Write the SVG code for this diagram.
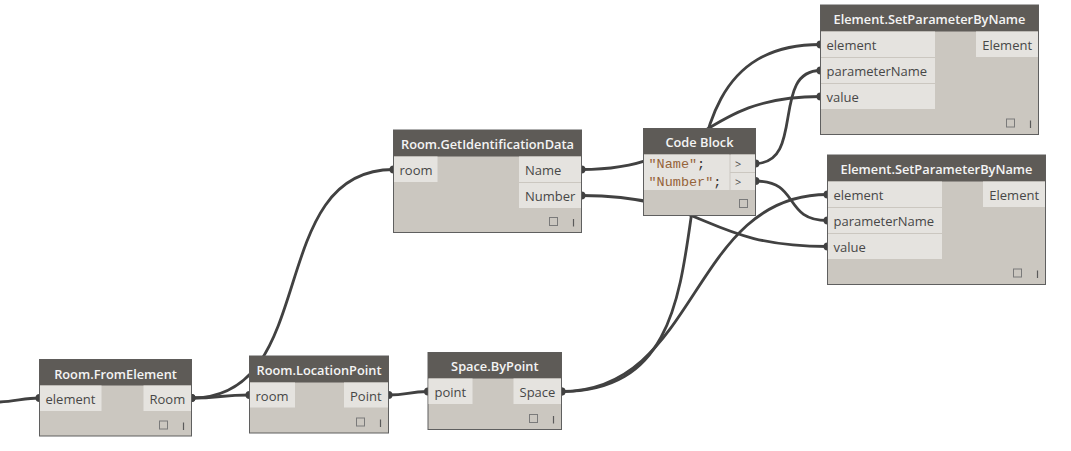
<svg xmlns="http://www.w3.org/2000/svg" width="1071" height="451" viewBox="0 0 1071 451">
<style>
.body{fill:#cbc7c0;stroke:#5f5f5f;stroke-width:1}
.hdr{fill:#5e5b57}
.port{fill:#e5e3df}
.ht{font-family:"Open Sans","Liberation Sans",sans-serif;font-size:12.8px;font-weight:600;fill:#f4f4f4;text-anchor:middle}
.pt{font-family:"Open Sans","Liberation Sans",sans-serif;font-size:13px;fill:#474747}
.code{font-family:"Liberation Mono","DejaVu Sans Mono",monospace;font-size:13.5px;fill:#96643a}
.semi{fill:#333333}
.gt{font-family:"Open Sans","Liberation Sans",sans-serif;font-size:11px;fill:#4a4a4a}
.ico{fill:none;stroke:#7a7a7a;stroke-width:1}
.bar{stroke:#5a5a5a;stroke-width:1.2}
.wire{fill:none;stroke:#414141;stroke-width:2.8}
</style>
<defs>
<marker id="dot" markerUnits="userSpaceOnUse" markerWidth="10" markerHeight="10" refX="5" refY="5" viewBox="0 0 10 10"><circle cx="5" cy="5" r="4" fill="#414141"/></marker>
</defs>
<rect width="1071" height="451" fill="#ffffff"/>
<g id="connectors">
<path class="wire" d="M0,402 C15,401.5 25,398 39.5,398" marker-end="url(#dot)"/>
<path class="wire" d="M191.5,398 C220.5,398 220.5,395 249.5,395" marker-start="url(#dot)" marker-end="url(#dot)"/>
<path class="wire" d="M191.5,398 C321.5,398 263.5,169.5 393.5,169.5" marker-start="url(#dot)" marker-end="url(#dot)"/>
<path class="wire" d="M388.5,395 C408,395 408,391.5 428,391.5" marker-start="url(#dot)" marker-end="url(#dot)"/>
<path class="wire" d="M561.5,391.5 C771.5,391.5 610.5,44.5 820.5,44.5" marker-start="url(#dot)" marker-end="url(#dot)"/>
<path class="wire" d="M561.5,391.5 C699.5,391.5 689.5,194.5 827.5,194.5" marker-start="url(#dot)" marker-end="url(#dot)"/>
<path class="wire" d="M581.5,169.5 C704.5,169.5 697.5,96.5 820.5,96.5" marker-start="url(#dot)" marker-end="url(#dot)"/>
<path class="wire" d="M581.5,195.5 C706.5,195.5 702.5,246.5 827.5,246.5" marker-start="url(#dot)" marker-end="url(#dot)"/>
<path class="wire" d="M755.5,163.5 C805.5,163.5 770.5,70.5 820.5,70.5" marker-start="url(#dot)" marker-end="url(#dot)"/>
<path class="wire" d="M755.5,181 C800.5,181 782.5,220.5 827.5,220.5" marker-start="url(#dot)" marker-end="url(#dot)"/>
</g>
<g id="room-fromelement">
<rect class="body" x="39.5" y="359.5" width="152" height="76.5"/>
<rect class="hdr" x="39.5" y="359.5" width="152" height="26"/>
<rect class="port" x="40" y="385.5" width="61.5" height="25.5"/>
<rect class="port" x="143.5" y="385.5" width="47.5" height="25.5"/>
<text class="ht" x="115.5" y="378.5">Room.FromElement</text>
<text class="pt" x="45.5" y="404">element</text>
<text class="pt" x="149.5" y="404">Room</text>
<rect class="ico" x="159.5" y="421" width="8" height="8"/>
<line class="bar" x1="183.5" y1="422.5" x2="183.5" y2="430"/>
</g>
<g id="room-locationpoint">
<rect class="body" x="249.5" y="356" width="139" height="77"/>
<rect class="hdr" x="249.5" y="356" width="139" height="26.5"/>
<rect class="port" x="250" y="382.5" width="45" height="25"/>
<rect class="port" x="344" y="382.5" width="44" height="25"/>
<text class="ht" x="319" y="375">Room.LocationPoint</text>
<text class="pt" x="255.5" y="400.5">room</text>
<text class="pt" x="350" y="400.5">Point</text>
<rect class="ico" x="356.5" y="418" width="8" height="8"/>
<line class="bar" x1="380.5" y1="419.5" x2="380.5" y2="427"/>
</g>
<g id="room-getidentificationdata">
<rect class="body" x="393.5" y="130" width="188" height="102.5"/>
<rect class="hdr" x="393.5" y="130" width="188" height="26.5"/>
<rect class="port" x="394" y="156.5" width="43.5" height="25.5"/>
<rect class="port" x="519" y="156.5" width="62" height="25.5"/>
<rect class="port" x="519" y="183" width="62" height="25"/>
<text class="ht" x="487.5" y="149">Room.GetIdentificationData</text>
<text class="pt" x="399.5" y="174.5">room</text>
<text class="pt" x="525" y="174.5">Name</text>
<text class="pt" x="525" y="201">Number</text>
<rect class="ico" x="549.5" y="217.5" width="8" height="8"/>
<line class="bar" x1="573.5" y1="219" x2="573.5" y2="226.5"/>
</g>
<g id="code-block">
<rect class="body" x="643.5" y="128.5" width="112" height="87"/>
<rect class="hdr" x="643.5" y="128.5" width="112" height="26"/>
<rect class="port" x="644" y="154.5" width="85.5" height="35.5"/>
<rect class="port" x="730.5" y="154.5" width="24.5" height="17.5"/>
<rect class="port" x="730.5" y="173" width="24.5" height="17"/>
<text class="ht" x="699.5" y="147">Code Block</text>
<text class="code" x="648.5" y="168.3">"Name"<tspan class="semi">;</tspan></text>
<text class="code" x="648.5" y="185.8">"Number"<tspan class="semi">;</tspan></text>
<text class="gt" x="735" y="168">&gt;</text>
<text class="gt" x="735" y="186">&gt;</text>
<rect class="ico" x="739.5" y="199.5" width="8" height="8"/>
</g>
<g id="setparameter-1">
<rect class="body" x="820.5" y="5" width="218" height="129.5"/>
<rect class="hdr" x="820.5" y="5" width="218" height="26.5"/>
<rect class="port" x="821" y="31.5" width="114" height="25.5"/>
<rect class="port" x="821" y="58" width="114" height="25"/>
<rect class="port" x="821" y="84" width="114" height="25"/>
<rect class="port" x="976" y="31.5" width="62" height="25.5"/>
<text class="ht" x="929.5" y="24">Element.SetParameterByName</text>
<text class="pt" x="826.5" y="49.5">element</text>
<text class="pt" x="826.5" y="75.8">parameterName</text>
<text class="pt" x="826.5" y="101.7">value</text>
<text class="pt" x="982.3" y="49.5">Element</text>
<rect class="ico" x="1006.5" y="119" width="8" height="8"/>
<line class="bar" x1="1030.5" y1="120.5" x2="1030.5" y2="128"/>
</g>
<g id="setparameter-2">
<rect class="body" x="827.5" y="155" width="218" height="129.5"/>
<rect class="hdr" x="827.5" y="155" width="218" height="26.5"/>
<rect class="port" x="828" y="181.5" width="114" height="25.5"/>
<rect class="port" x="828" y="208" width="114" height="25"/>
<rect class="port" x="828" y="234" width="114" height="25"/>
<rect class="port" x="983" y="181.5" width="62" height="25.5"/>
<text class="ht" x="936.5" y="174">Element.SetParameterByName</text>
<text class="pt" x="833.5" y="199.5">element</text>
<text class="pt" x="833.5" y="225.8">parameterName</text>
<text class="pt" x="833.5" y="251.7">value</text>
<text class="pt" x="989.3" y="199.5">Element</text>
<rect class="ico" x="1013.5" y="269" width="8" height="8"/>
<line class="bar" x1="1037.5" y1="270.5" x2="1037.5" y2="278"/>
</g>
<g id="space-bypoint">
<rect class="body" x="428" y="352.5" width="133.5" height="77"/>
<rect class="hdr" x="428" y="352.5" width="133.5" height="26"/>
<rect class="port" x="428.5" y="378.5" width="44" height="25.5"/>
<rect class="port" x="513.5" y="378.5" width="47.5" height="25.5"/>
<text class="ht" x="494.8" y="371">Space.ByPoint</text>
<text class="pt" x="434.5" y="396.5">point</text>
<text class="pt" x="519.5" y="396.5">Space</text>
<rect class="ico" x="529.5" y="414.5" width="8" height="8"/>
<line class="bar" x1="553.5" y1="416" x2="553.5" y2="423.5"/>
</g>
</svg>
